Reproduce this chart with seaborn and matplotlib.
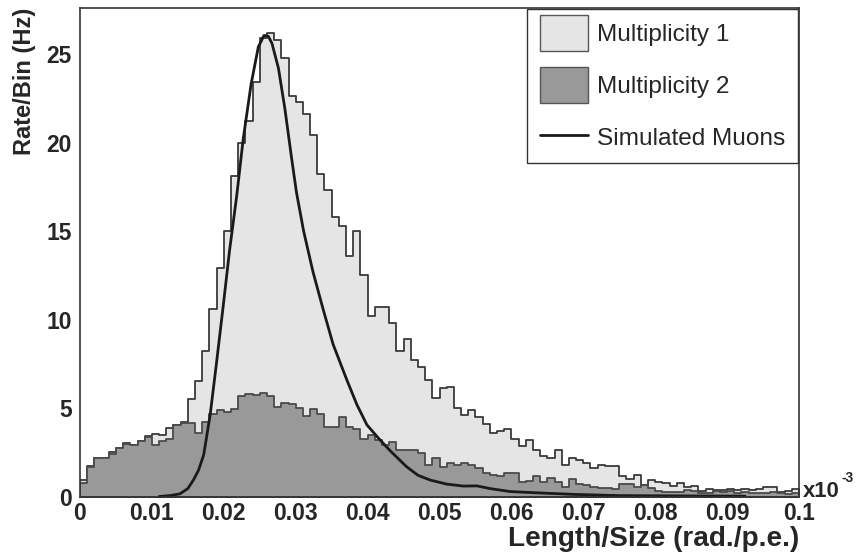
import numpy as np
import pandas as pd
import matplotlib
matplotlib.use("Agg")
import matplotlib.pyplot as plt
from matplotlib.patches import Patch, Rectangle
from matplotlib.lines import Line2D
from matplotlib.legend_handler import HandlerPatch
from matplotlib.ticker import MultipleLocator
import seaborn as sns

# ---------------- data ----------------
bin_edges = [i * 0.001 for i in range(101)]
mult1 = [0.95, 1.7, 2.15, 2.15, 2.5, 2.75, 3.0, 2.9, 3.15, 3.4,
         3.55, 3.5, 3.85, 4.05, 4.2, 5.5, 6.55, 8.2, 10.6, 12.9,
         15.0, 18.1, 20.0, 21.2, 23.4, 25.9, 26.2, 25.8, 24.8, 22.6,
         22.3, 21.6, 20.4, 18.2, 17.3, 15.8, 15.3, 13.6, 15.0, 12.5,
         10.2, 10.7, 10.7, 9.8, 8.2, 8.9, 7.7, 7.3, 6.6, 5.55,
         6.15, 6.2, 5.0, 4.6, 4.9, 4.5, 4.1, 3.57, 3.7, 3.8,
         3.25, 2.85, 3.2, 2.6, 2.3, 2.2, 2.6, 1.8, 2.2, 2.05,
         1.87, 1.6, 1.8, 1.7, 1.75, 1.18, 1.0, 1.2, 0.65, 0.93,
         0.82, 0.78, 0.6, 0.75, 0.52, 0.6, 0.3, 0.45, 0.37, 0.37,
         0.45, 0.37, 0.45, 0.37, 0.45, 0.52, 0.55, 0.27, 0.3, 0.4]
mult2 = [0.75, 1.69, 2.16, 2.16, 2.38, 2.72, 2.97, 2.9, 3.14, 3.38,
         2.9, 3.14, 3.23, 4.04, 4.15, 4.17, 3.57, 4.23, 4.67, 4.89,
         4.8, 4.93, 5.65, 5.8, 5.72, 5.87, 5.65, 5.04, 5.3, 5.2,
         5.0, 4.55, 4.93, 4.67, 3.91, 3.91, 4.48, 3.9, 3.8, 3.27,
         3.5, 3.2, 2.9, 3.1, 2.6, 2.63, 2.63, 2.44, 1.8, 2.2,
         1.65, 1.9, 1.8, 1.87, 1.8, 1.6, 1.3, 1.2, 1.18, 1.35,
         1.3, 0.8, 0.9, 1.16, 0.8, 1.06, 0.84, 0.52, 0.97, 0.7,
         0.65, 0.52, 0.46, 0.46, 0.4, 0.69, 0.69, 0.52, 0.65, 0.46,
         0.31, 0.27, 0.25, 0.25, 0.35, 0.3, 0.2, 0.2, 0.3, 0.25,
         0.3, 0.2, 0.25, 0.2, 0.22, 0.2, 0.25, 0.2, 0.15, 0.2]
muon_x = [0.0110, 0.0125, 0.0139, 0.0150, 0.0158, 0.0165, 0.0172, 0.0181,
          0.0190, 0.0199, 0.0208, 0.0218, 0.0227, 0.0238, 0.0248, 0.0256,
          0.0262, 0.0267, 0.0276, 0.0285, 0.0294, 0.0301, 0.0311, 0.0324,
          0.0338, 0.0352, 0.0371, 0.0385, 0.0399, 0.0415, 0.0431, 0.0454,
          0.0470, 0.0487, 0.0510, 0.0533, 0.0552, 0.0570, 0.0598, 0.0640,
          0.0686, 0.0750, 0.0850, 0.0925]
muon_y = [0.0, 0.05, 0.15, 0.45, 0.95, 1.5, 2.35, 4.6,
          7.6, 10.7, 13.9, 17.0, 20.2, 23.3, 25.4, 26.05,
          26.0, 25.6, 24.2, 21.9, 19.2, 17.2, 15.0, 12.7,
          10.6, 8.6, 6.6, 5.2, 4.05, 3.3, 2.6, 1.69,
          1.2, 0.93, 0.7, 0.59, 0.6, 0.45, 0.28, 0.2,
          0.12, 0.05, 0.03, 0.02]
labels = ["Multiplicity 1", "Multiplicity 2", "Simulated Muons"]
xtick_labels = ["0", "0.01", "0.02", "0.03", "0.04", "0.05",
                "0.06", "0.07", "0.08", "0.09", "0.1"]
ytick_vals = [0, 5, 10, 15, 20, 25]

# ---------------- style ----------------
sns.set_style("white")
plt.rcParams["font.family"] = ["Liberation Sans", "DejaVu Sans"]
BOLD = dict(family=["Liberation Sans", "DejaVu Sans"], fontweight="bold")

centers = [(bin_edges[i] + bin_edges[i + 1]) / 2 for i in range(100)]
df = pd.DataFrame({"x": centers, "m1": mult1, "m2": mult2})
mu = pd.DataFrame({"x": muon_x, "y": muon_y})

fig = plt.figure(figsize=(8.59, 5.56), dpi=100)
W, H = 859, 556
ax = fig.add_axes([80 / W, (H - 496.5) / H, (799 - 80) / W, (496.5 - 8) / H])

light_fc, light_ec = "#e5e5e5", "#3a3a3a"
dark_fc, dark_ec = "#999999", "#4a4a4a"

sns.histplot(data=df, x="x", weights="m1", bins=bin_edges, element="step",
             fill=True, facecolor=light_fc, edgecolor=light_ec, linewidth=1.3,
             alpha=1, ax=ax)
sns.histplot(data=df, x="x", weights="m2", bins=bin_edges, element="step",
             fill=True, facecolor=dark_fc, edgecolor=dark_ec, linewidth=1.3,
             alpha=1, ax=ax)
sns.lineplot(data=mu, x="x", y="y", color="#1a1a1a", linewidth=2.0, ax=ax)

ax.set_xlim(0, 0.1)
ax.set_ylim(0, 27.6)

for s in ax.spines.values():
    s.set_color("#333333")
    s.set_linewidth(1.2)

ax.set_xticks([i * 0.01 for i in range(11)])
ax.set_xticklabels(xtick_labels, fontsize=16.5, **BOLD)
ax.xaxis.set_minor_locator(MultipleLocator(0.002))
ax.set_yticks(ytick_vals)
ax.set_yticklabels([str(v) for v in ytick_vals], fontsize=16.5, **BOLD)
ax.yaxis.set_minor_locator(MultipleLocator(1))
ax.tick_params(axis="both", which="both", direction="in", color="#333333",
               top=False, right=False, width=1.1)
ax.tick_params(axis="y", which="major", length=21.6 * 0.72, pad=6)
ax.tick_params(axis="y", which="minor", length=10.8 * 0.72)
ax.tick_params(axis="x", which="major", length=14.6 * 0.72, pad=4)
ax.tick_params(axis="x", which="minor", length=7.3 * 0.72)

xl = ax.set_xlabel("Length/Size (rad./p.e.)", fontsize=19, loc="right",
                   labelpad=1, **BOLD)
yl = ax.set_ylabel("Rate/Bin (Hz)", fontsize=17, loc="top", labelpad=7, **BOLD)
t1 = fig.text(803 / W, (H - 497) / H, "x10", fontsize=16,
              ha="left", va="baseline", **BOLD)

# fit text sizes to the reference's measured extents (pixels)
fig.canvas.draw()
r = fig.canvas.get_renderer()


def fit(artist, target, horizontal=True):
    bb = artist.get_window_extent(r)
    cur = bb.width if horizontal else bb.height
    if cur > 0:
        artist.set_fontsize(artist.get_fontsize() * target / cur)


fit(xl, 292)
fit(yl, 147, horizontal=False)
fit(t1, 37)
fig.canvas.draw()
bb1 = t1.get_window_extent(r)
fig.text((bb1.x1 + 1.5) / W, (H - 482) / H, "-3",
         fontsize=t1.get_fontsize() * 0.62, ha="left", va="baseline", **BOLD)


class TallPatch(HandlerPatch):
    def __init__(self, h_pt, **kw):
        super().__init__(**kw)
        self.h_pt = h_pt

    def create_artists(self, legend, orig_handle, xdescent, ydescent, width,
                       height, fontsize, trans):
        y0 = -ydescent + height / 2 - self.h_pt / 2
        p = Rectangle((-xdescent, y0), width, self.h_pt)
        self.update_prop(p, orig_handle, legend)
        p.set_transform(trans)
        return [p]


handles = [Patch(facecolor=light_fc, edgecolor="#555555", linewidth=1.0),
           Patch(facecolor=dark_fc, edgecolor="#555555", linewidth=1.0),
           Line2D([], [], color="#1a1a1a", linewidth=2.0)]
tall = TallPatch(25.9)
leg = ax.legend(handles, labels, loc="upper right", bbox_to_anchor=(1.0, 1.0),
                fontsize=17.6, frameon=True, fancybox=False, framealpha=1,
                edgecolor="#333333", borderpad=0.5, handlelength=1.98,
                handleheight=1.1, labelspacing=1.1, handletextpad=0.38,
                borderaxespad=0.05,
                handler_map={handles[0]: tall, handles[1]: tall})
leg.get_frame().set_linewidth(1.0)

fig.savefig("out.png", dpi=100)
